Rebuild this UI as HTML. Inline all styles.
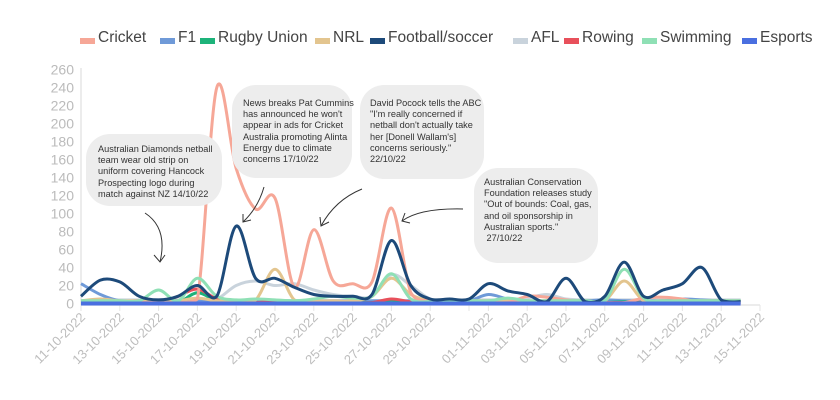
<!DOCTYPE html>
<html><head><meta charset="utf-8"><style>
body{margin:0;background:#fff;width:840px;height:400px;overflow:hidden;position:relative;font-family:"Liberation Sans",sans-serif}
.lg{position:absolute;top:29px;font-family:"Liberation Sans",sans-serif;font-size:15.5px;color:#444;white-space:nowrap}
.sw{position:absolute;top:38px;width:15px;height:6px}
.b{position:absolute;background:#ededed;border-radius:24px;font-size:9.2px;line-height:11.2px;color:#333;font-family:"Liberation Sans",sans-serif;box-sizing:border-box;white-space:nowrap}
</style></head><body>
<div class="sw" style="left:80px;background:#f6a797"></div><div class="lg" style="left:98px">Cricket</div>
<div class="sw" style="left:160px;background:#6f9ad8"></div><div class="lg" style="left:178px">F1</div>
<div class="sw" style="left:200px;background:#1db37a"></div><div class="lg" style="left:218px">Rugby Union</div>
<div class="sw" style="left:315px;background:#e3c58f"></div><div class="lg" style="left:333px">NRL</div>
<div class="sw" style="left:370px;background:#1d4a7a"></div><div class="lg" style="left:388px">Football/soccer</div>
<div class="sw" style="left:513px;background:#c9d3dc"></div><div class="lg" style="left:531px">AFL</div>
<div class="sw" style="left:564px;background:#e8505b"></div><div class="lg" style="left:582px">Rowing</div>
<div class="sw" style="left:642px;background:#8fe0b5"></div><div class="lg" style="left:660px">Swimming</div>
<div class="sw" style="left:742px;background:#4a6fe0"></div><div class="lg" style="left:760px">Esports</div>

<svg id="c" width="840" height="400" style="position:absolute;left:0;top:0"></svg>

<div class="b" style="left:86px;top:134px;width:136px;height:72px;padding:10px 0 0 12px">Australian Diamonds netball<br>team wear old strip on<br>uniform covering Hancock<br>Prospecting logo during<br>match against NZ 14/10/22</div>
<div class="b" style="left:232px;top:85px;width:120px;height:93px;padding:13px 0 0 11px">News breaks Pat Cummins<br>has announced he won't<br>appear in ads for Cricket<br>Australia promoting Alinta<br>Energy due to climate<br>concerns 17/10/22</div>
<div class="b" style="left:360px;top:85px;width:124px;height:94px;padding:13px 0 0 10px">David Pocock tells the ABC<br>"I'm really concerned if<br>netball don't actually take<br>her [Donell Wallam's]<br>concerns seriously."<br>22/10/22</div>
<div class="b" style="left:474px;top:168px;width:124px;height:95px;padding:9px 0 0 10px">Australian Conservation<br>Foundation releases study<br>"Out of bounds: Coal, gas,<br>and oil sponsorship in<br>Australian sports."<br>&nbsp;27/10/22</div>

<script>
var svg=document.getElementById('c'),h='';
var X=function(d){return 81+19.4*d},Y=function(v){return 303.5-0.9*v};
var Y0=Y(0);
for(var v=0;v<=260;v+=20)h+='<text x="74" y="'+(Y(v)+5)+'" text-anchor="end" font-size="14" fill="#bbb" font-family="Liberation Sans">'+v+'</text>';
h+='<line x1="81" y1="68" x2="81" y2="305" stroke="#e6e6e6" stroke-width="1.5"/><line x1="81" y1="305" x2="760" y2="305" stroke="#e6e6e6" stroke-width="1.5"/>';
for(var d=0;d<=35;d++){var x=X(d);var lbl=null;
 if(d<=18&&d%2==0){lbl=(11+d)+'-10-2022';}
 if(d>=21&&(d-21)%2==0){var dd=d-20;lbl=(dd<10?'0':'')+dd+'-11-2022';}
 if((d<=20&&d%2==0)||(d>=21&&(d-21)%2==0))h+='<line x1="'+x+'" y1="305" x2="'+x+'" y2="311" stroke="#e6e6e6"/>';
 if(lbl)h+='<text transform="translate('+(x+5)+',318) rotate(-45)" text-anchor="end" font-size="13" fill="#bdbdbd" font-family="Liberation Sans">'+lbl+'</text>';}
function cl(y){return Math.min(y,Y0);}
function path(vals,col,w){var p=vals.map(function(v,i){return [X(i),Y(v)]});var s='M'+p[0][0]+','+p[0][1];
 for(var i=0;i<p.length-1;i++){var p0=p[i-1]||p[i],p1=p[i],p2=p[i+1],p3=p[i+2]||p2;
 s+=' C'+(p1[0]+(p2[0]-p0[0])/6)+','+cl(p1[1]+(p2[1]-p0[1])/6)+' '+(p2[0]-(p3[0]-p1[0])/6)+','+cl(p2[1]-(p3[1]-p1[1])/6)+' '+p2[0]+','+p2[1];}
 return '<path d="'+s+'" fill="none" stroke="'+col+'" stroke-width="'+w+'" stroke-linejoin="round"/>';}
function arr(n,f){var a=[];for(var i=0;i<35;i++)a.push(f[i]!==undefined?f[i]:n);return a;}
var esports=arr(0,{});
var f1=arr(3,{0:22,1:10,2:3,21:10,22:5,27:4,31:5,32:4});
var rugby=arr(1,{6:12,7:3,16:4,28:2});
var rowing=arr(1,{5:8,6:16,7:5,10:3,16:5,17:2,30:3});
var nrl=arr(3,{1:5,6:6,9:4,10:38,11:4,15:8,16:28,17:10,28:25,29:3});
var afl=arr(4,{0:3,7:5,8:20,9:25,10:20,11:22,12:15,13:10,14:8,15:8,16:32,17:20,18:5,23:6,24:10,25:5});
var swim=arr(3,{3:3,4:15,5:3,6:28,7:8,8:4,9:5,10:4,11:3,12:5,13:8,14:6,15:8,16:33,17:5,18:2,22:6,28:38,29:6});
var cricket=arr(1,{5:1,6:5,7:240,8:150,9:105,10:117,11:18,12:82,13:25,14:22,15:24,16:106,17:12,18:3,23:8,24:7,25:4,29:6,30:7,31:5});
var foot=[8,26,24,8,4,8,20,8,86,28,28,18,10,8,8,10,70,20,5,5,5,22,14,10,2,28,2,8,46,8,15,22,40,4,2];
[[afl,'#c9d3dc'],[f1,'#6f9ad8'],[rugby,'#1db37a'],[rowing,'#e8505b'],[nrl,'#e3c58f'],[cricket,'#f6a797'],[swim,'#8fe0b5'],[foot,'#1d4a7a'],[esports,'#4a6fe0']].forEach(function(s){h+=path(s[0],s[1],s[0]===esports?4:3);});
var ap='fill="none" stroke="#333" stroke-width="1"';
h+='<path d="M145,213 Q168,228 160,262" '+ap+'/><path d="M154,255 L160,262 L165,255" '+ap+'/>';
h+='<path d="M264,187 Q258,208 243,222" '+ap+'/><path d="M243,214 L243,222 L251,220" '+ap+'/>';
h+='<path d="M362,189 Q335,200 321,226" '+ap+'/><path d="M320,217 L321,226 L329,222" '+ap+'/>';
h+='<path d="M463,209 Q420,208 402,221" '+ap+'/><path d="M405,213 L402,221 L410,223" '+ap+'/>';
svg.innerHTML=h;
</script>
</body></html>
